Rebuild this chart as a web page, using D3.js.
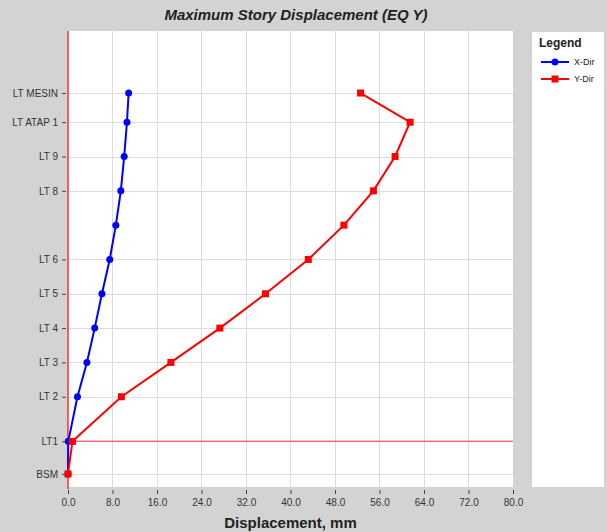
<!DOCTYPE html>
<html><head><meta charset="utf-8">
<script src="https://cdn.jsdelivr.net/npm/d3@7"></script>
<style>body{margin:0;background:#d3d3d3;font-family:"Liberation Sans",Arial,sans-serif}</style>
</head><body><svg id="c" width="607" height="532"></svg>
<script>
const stories = ["BSM","LT1","LT2","LT3","LT4","LT5","LT6","LT7","LT8","LT9","LT ATAP 1","LT MESIN"];
const elevations = [0,3.8,9,13,17,21,25,29,33,37,41,44.4];
const labeledStories = ["BSM","LT1","LT 2","LT 3","LT 4","LT 5","LT 6","","LT 8","LT 9","LT ATAP 1","LT MESIN"];
const xDir = [0,0.05,1.7,3.4,4.8,6.1,7.5,8.6,9.5,10.1,10.6,10.9];
const yDir = [0,0.8,9.6,18.5,27.3,35.5,43.2,49.6,54.9,58.8,61.5,52.6];
const xTicks = [0,8,16,24,32,40,48,56,64,72,80];
const seriesNames = ["X-Dir","Y-Dir"];

const svg = d3.select("#c");
const L=68,R=513,T=31,B=487;
svg.append("rect").attr("width",607).attr("height",532).attr("fill","#d3d3d3");
svg.append("rect").attr("x",L).attr("y",T).attr("width",R-L).attr("height",B-T).attr("fill","#fff");

const x = d3.scaleLinear().domain([0,80]).range([L,R]);
const y = d3.scaleLinear().domain([-1.52,51.63]).range([B,T]);

// grid
const g = svg.append("g");
g.selectAll(".vg").data(xTicks.slice(1,-1)).join("line")
 .attr("x1",d=>x(d)).attr("x2",d=>x(d)).attr("y1",T).attr("y2",B)
 .attr("stroke","#dcdcdc").attr("stroke-width",1).attr("shape-rendering","crispEdges");
const labIdx = d3.range(stories.length).filter(i=>labeledStories[i]!=="");
g.selectAll(".hg").data(labIdx).join("line")
 .attr("x1",L).attr("x2",R).attr("y1",i=>Math.round(y(elevations[i]))+0.5).attr("y2",i=>Math.round(y(elevations[i]))+0.5)
 .attr("stroke","#dcdcdc").attr("stroke-width",1);

// x axis
const xa = svg.append("g").attr("transform",`translate(0,${B+3})`)
 .call(d3.axisBottom(x).tickValues(xTicks).tickFormat(d3.format(".1f")).tickSize(4).tickPadding(5));
xa.select(".domain").remove();
xa.selectAll("line").attr("stroke","#444");
xa.selectAll("text").attr("font-size","10px").attr("fill","#333").attr("font-family","Liberation Sans, Arial");

// y axis
const ya = svg.append("g").attr("transform",`translate(${L-2},0)`)
 .call(d3.axisLeft(y).tickValues(labIdx.map(i=>elevations[i]))
   .tickFormat(v=>labeledStories[elevations.indexOf(v)]).tickSize(4).tickPadding(4));
ya.select(".domain").remove();
ya.selectAll("line").attr("stroke","#444");
ya.selectAll("text").attr("font-size","10px").attr("fill","#333").attr("font-family","Liberation Sans, Arial");

// reference lines
svg.append("line").attr("x1",L).attr("x2",R).attr("y1",y(elevations[1])).attr("y2",y(elevations[1]))
 .attr("stroke","#ff0000").attr("stroke-opacity",0.5).attr("stroke-width",1.5);
svg.append("line").attr("x1",x(0)).attr("x2",x(0)).attr("y1",T).attr("y2",B+2)
 .attr("stroke","#ff0000").attr("stroke-width",1.2);

// series
const line = d3.line().x(d=>x(d[0])).y(d=>y(d[1]));
const bx = xDir.map((v,i)=>[v,elevations[i]]);
const ry = yDir.map((v,i)=>[v,elevations[i]]);
svg.append("path").datum(bx).attr("d",line).attr("fill","none").attr("stroke","#0000ff").attr("stroke-width",2);
svg.selectAll(".bm").data(bx).join("circle").attr("cx",d=>x(d[0])).attr("cy",d=>y(d[1])).attr("r",3.5).attr("fill","#0000ff");
svg.append("path").datum(ry).attr("d",line).attr("fill","none").attr("stroke","#ff0000").attr("stroke-width",2);
svg.selectAll(".rm").data(ry).join("rect").attr("x",d=>x(d[0])-3.5).attr("y",d=>y(d[1])-3.5).attr("width",7).attr("height",7).attr("fill","#ff0000");

// titles
svg.append("text").attr("x",296).attr("y",20).attr("text-anchor","middle")
 .attr("font-size","15px").attr("font-weight","bold").attr("font-style","italic").attr("fill","#222")
 .text("Maximum Story Displacement (EQ Y)");
svg.append("text").attr("x",(L+R)/2).attr("y",528).attr("text-anchor","middle")
 .attr("font-size","15px").attr("font-weight","bold").attr("fill","#222").text("Displacement, mm");

// legend
const lg = svg.append("g");
lg.append("rect").attr("x",532).attr("y",32).attr("width",72).attr("height",455).attr("fill","#fff");
lg.append("text").attr("x",539).attr("y",47).attr("font-size","12px").attr("font-weight","bold").attr("fill","#222").text("Legend");
const colors = ["#0000ff","#ff0000"];
seriesNames.forEach((n,i)=>{
  const yy = 62 + i*17;
  lg.append("line").attr("x1",541).attr("x2",569).attr("y1",yy).attr("y2",yy).attr("stroke",colors[i]).attr("stroke-width",2);
  if(i===0) lg.append("circle").attr("cx",555).attr("cy",yy).attr("r",3.5).attr("fill",colors[i]);
  else lg.append("rect").attr("x",551.5).attr("y",yy-3.5).attr("width",7).attr("height",7).attr("fill",colors[i]);
  lg.append("text").attr("x",574).attr("y",yy+3).attr("font-size","9px").attr("fill","#222").text(n);
});
</script></body></html>
